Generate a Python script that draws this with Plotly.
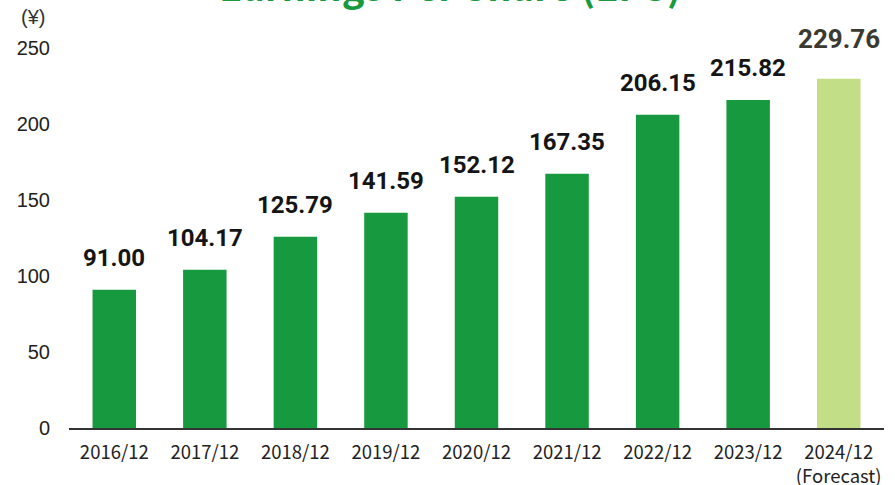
import plotly.graph_objects as go

categories = ["2016/12", "2017/12", "2018/12", "2019/12", "2020/12",
              "2021/12", "2022/12", "2023/12", "2024/12<br>(Forecast)"]
eps = [91.00, 104.17, 125.79, 141.59, 152.12, 167.35, 206.15, 215.82, 229.76]
labels = ["91.00", "104.17", "125.79", "141.59", "152.12", "167.35", "206.15", "215.82", "229.76"]
y_ticks = [0, 50, 100, 150, 200, 250]

dark = "#17993f"
light = "#c2de86"
colors = [dark] * 8 + [light]

fig = go.Figure()
fig.add_trace(go.Bar(x=categories, y=eps, marker=dict(color=colors, line=dict(width=0)),
                     width=0.48, hoverinfo="skip"))

for i, (c, v, t) in enumerate(zip(categories, eps, labels)):
    last = i == len(eps) - 1
    fig.add_annotation(x=c, y=v, text=t, showarrow=False, xref="x", yref="y",
                       yanchor="bottom", yshift=16 if not last else 23,
                       font=dict(family="Roboto, Liberation Sans, Arial", size=26 if last else 24,
                                 color="#3a3a32" if last else "#151515",
                                 weight="bold"))

fig.add_annotation(x=0.4675, y=1.0, xref="paper", yref="paper", yanchor="bottom", yshift=34,
                   text="Earnings Per Share (EPS)", showarrow=False,
                   font=dict(family="Noto Sans CJK JP", size=38, color="#1a9a3f", weight="bold"))
fig.add_annotation(x=-0.044, y=1.082, xref="paper", yref="paper", yanchor="middle",
                   xanchor="center",
                   text="(¥)", showarrow=False,
                   font=dict(family="Liberation Sans Narrow, Liberation Sans", size=20, color="#333"))

fig.update_layout(
    width=895, height=485,
    margin=dict(l=69, r=11, t=48, b=57, autoexpand=False),
    paper_bgcolor="white", plot_bgcolor="white",
    showlegend=False,
    font=dict(family="Noto Sans CJK JP", size=15, color="#222"),
    xaxis=dict(showline=True, linecolor="#333", linewidth=1.5, ticks="", automargin=False,
               ticklabelstandoff=7,
               tickfont=dict(size=18.5, color="#222"), showgrid=False),
    yaxis=dict(range=[0, 250], tickvals=y_ticks, showgrid=False, zeroline=False,
               showline=False, ticks="", ticklabelstandoff=18, automargin=False,
               tickfont=dict(family="Liberation Sans Narrow, Liberation Sans", size=20, color="#222")),
)
fig.write_html("out.html", config={"displayModeBar": False},
               post_script="document.body.style.margin='0';document.body.style.overflow='hidden';")
